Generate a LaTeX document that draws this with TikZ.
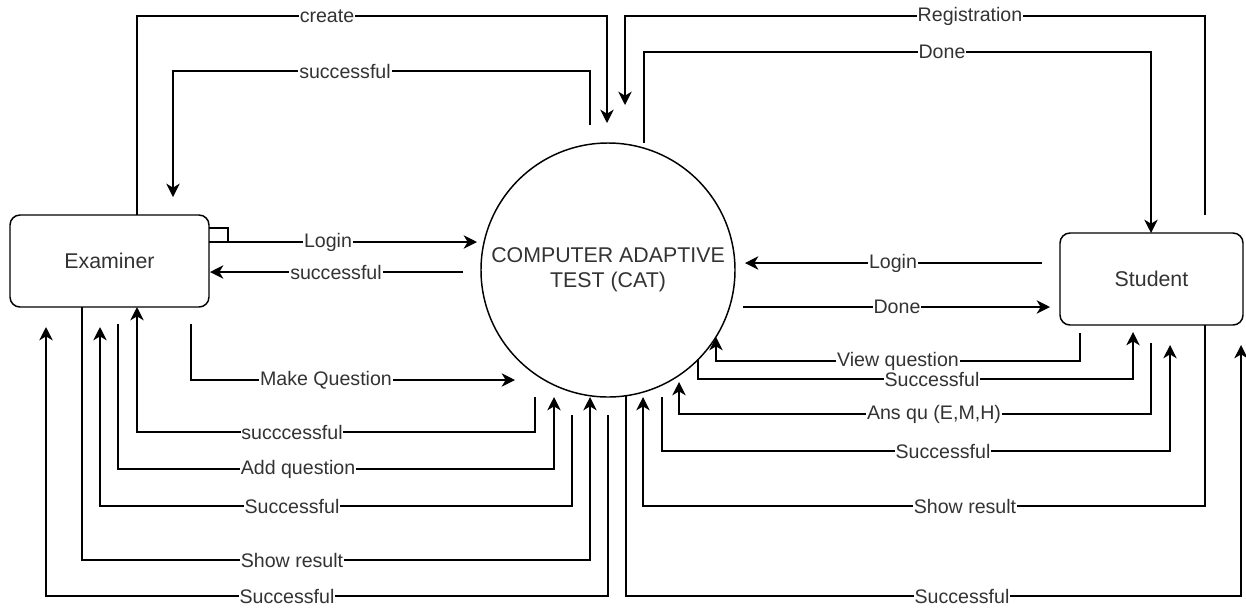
\documentclass[tikz,border=0pt]{standalone}
\usepackage{fontspec}
\setmainfont{Liberation Sans}
\usetikzlibrary{arrows.meta}
\definecolor{txt}{HTML}{333333}
\tikzset{
  flow/.style={line width=1.1pt, black, -{Stealth[length=10pt,width=10pt,inset=3pt]}},
  plain/.style={line width=1.1pt, black},
  lbl/.style={fill=white, inner sep=0.6pt, text=txt, font=\fontsize{14.7}{17}\selectfont},
  entity/.style={draw, line width=1.1pt, rounded corners=7.5pt, minimum height=69pt, inner sep=0pt, text=txt, font=\fontsize{16}{19}\selectfont},
  proc/.style={draw, line width=1.1pt, circle, minimum size=190.5pt, inner sep=0pt, align=center, text=txt, font=\fontsize{16}{18.8}\selectfont}
}
\begin{document}
\begin{tikzpicture}[x=0.75pt,y=-0.75pt]
\useasboundingbox[fill=white] (0,0) rectangle (1246,608);
% nodes
\node[entity, minimum width=149.25pt] (ex) at (109.5,261) {Examiner};
\node[entity, minimum width=137.25pt] (st) at (1151.5,279) {Student};
\node[proc] (cat) at (608,270) {COMPUTER ADAPTIVE\\TEST (CAT)};
% endpoint coordinates
\coordinate (a1) at (137,215); \coordinate (b1) at (607,123);
\coordinate (a2) at (590,125); \coordinate (b2) at (173,197);
\coordinate (a3) at (1205,215); \coordinate (b3) at (625,105);
\coordinate (a4) at (644,143); \coordinate (b4) at (1151,233);
\coordinate (a5) at (209,242); \coordinate (b5) at (477,242);
\coordinate (a6) at (463,272); \coordinate (b6) at (210,272);
\coordinate (a7) at (191,324); \coordinate (b7) at (515,380);
\coordinate (a8) at (535,397); \coordinate (b8) at (137,307);
\coordinate (a9) at (118,324); \coordinate (b9) at (554,397);
\coordinate (a10) at (572,415); \coordinate (b10) at (100,327);
\coordinate (a11) at (82,307); \coordinate (b11) at (590,397);
\coordinate (a12) at (608,415); \coordinate (b12) at (46,327);
\coordinate (a13) at (1042,263); \coordinate (b13) at (745,263);
\coordinate (a14) at (743,307); \coordinate (b14) at (1050,307);
\coordinate (a15) at (1080,333); \coordinate (b15) at (716,337);
\coordinate (a16) at (698,359); \coordinate (b16) at (1133,332);
\coordinate (a17) at (1151,343); \coordinate (b17) at (679,382);
\coordinate (a18) at (662,397); \coordinate (b18) at (1170,345);
\coordinate (a19) at (1205,325); \coordinate (b19) at (643,397);
\coordinate (a20) at (626,395); \coordinate (b20) at (1241,345);
% top connectors
\draw[flow] (a1) -- (137,16) -- (607,16) -- (b1);
\draw[flow] (a2) -- (590,71) -- (173,71) -- (b2);
\draw[flow] (a3) -- (1205,16) -- (625,16) -- (b3);
\draw[flow] (a4) -- (644,52) -- (1151,52) -- (b4);
% left side
\draw[plain] (209,228) -- (228,228) -- (228,242);
\draw[flow] (a5) -- (b5);
\draw[flow] (a6) -- (b6);
\draw[flow] (a7) -- (191,380) -- (b7);
\draw[flow] (a8) -- (535,432) -- (137,432) -- (b8);
\draw[flow] (a9) -- (118,469) -- (554,469) -- (b9);
\draw[flow] (a10) -- (572,506) -- (100,506) -- (b10);
\draw[flow] (a11) -- (82,560) -- (590,560) -- (b11);
\draw[flow] (a12) -- (608,596) -- (46,596) -- (b12);
% right side
\draw[flow] (a13) -- (b13);
\draw[flow] (a14) -- (b14);
\draw[flow] (a15) -- (1080,361) -- (716,361) -- (b15);
\draw[flow] (a16) -- (698,379) -- (1133,379) -- (b16);
\draw[flow] (a17) -- (1151,414) -- (679,414) -- (b17);
\draw[flow] (a18) -- (662,451) -- (1170,451) -- (b18);
\draw[flow] (a19) -- (1205,506) -- (643,506) -- (b19);
\draw[flow] (a20) -- (626,596) -- (1241,596) -- (b20);
% labels
\node[lbl] (l1) at (327,16) {create};
\node[lbl] (l2) at (345,71) {successful};
\node[lbl] (l3) at (970,16) {Registration};
\node[lbl] (l4) at (942,52) {Done};
\node[lbl] (l5) at (328,242) {Login};
\node[lbl] (l6) at (336,272) {successful};
\node[lbl] (l7) at (326,380) {Make Question};
\node[lbl] (l8) at (292,432) {succcessful};
\node[lbl] (l9) at (298,469) {Add question};
\node[lbl] (l10) at (292,506) {Successful};
\node[lbl] (l11) at (292,560) {Show result};
\node[lbl] (l12) at (287,596) {Successful};
\node[lbl] (l13) at (893,263) {Login};
\node[lbl] (l14) at (897,307) {Done};
\node[lbl] (l15) at (898,361) {View question};
\node[lbl] (l16) at (932,379) {Successful};
\node[lbl] (l17) at (934,414) {Ans qu (E,M,H)};
\node[lbl] (l18) at (943,451) {Successful};
\node[lbl] (l19) at (965,506) {Show result};
\node[lbl] (l20) at (962,596) {Successful};
\end{tikzpicture}
\end{document}
